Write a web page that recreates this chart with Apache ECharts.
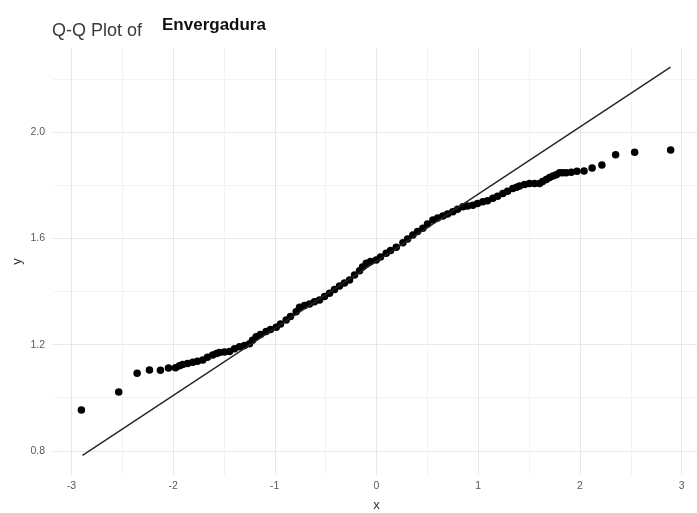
<!DOCTYPE html>
<html>
<head>
<meta charset="utf-8">
<script src="https://cdn.jsdelivr.net/npm/echarts@6/dist/echarts.min.js"></script>
<style>html,body{margin:0;padding:0;background:#fff;}#c{width:697px;height:513px;}</style>
</head>
<body>
<div id="c"></div>
<script>
// Theoretical quantiles (x) and sample quantiles (y)
var qqX = [-2.901,-2.534,-2.353,-2.232,-2.124,-2.045,-1.976,-1.937,-1.905,-1.858,
  -1.806,-1.760,-1.708,-1.662,-1.610,-1.573,-1.544,-1.495,-1.445,-1.396,
  -1.347,-1.298,-1.249,-1.219,-1.183,-1.141,-1.085,-1.042,-0.986,-0.944,
  -0.888,-0.846,-0.790,-0.757,-0.708,-0.659,-0.610,-0.560,-0.511,-0.462,
  -0.413,-0.364,-0.315,-0.265,-0.216,-0.167,-0.138,-0.101,-0.059,-0.003,
  0.039,0.095,0.138,0.194,0.259,0.305,0.357,0.403,0.455,0.501,
  0.554,0.600,0.652,0.698,0.750,0.796,0.849,0.895,0.947,0.993,
  1.045,1.091,1.144,1.190,1.242,1.288,1.340,1.377,1.406,1.455,
  1.504,1.554,1.603,1.632,1.669,1.701,1.734,1.767,1.799,1.829,
  1.865,1.914,1.970,2.040,2.119,2.215,2.350,2.537,2.891];
var qqY = [0.954,1.022,1.092,1.104,1.103,1.112,1.113,1.120,1.125,1.129,
  1.134,1.137,1.142,1.152,1.161,1.167,1.170,1.172,1.174,1.184,
  1.192,1.197,1.203,1.216,1.230,1.238,1.249,1.257,1.265,1.278,
  1.293,1.306,1.324,1.341,1.347,1.353,1.361,1.368,1.381,1.393,
  1.408,1.421,1.432,1.443,1.462,1.478,1.492,1.506,1.513,1.519,
  1.530,1.544,1.554,1.567,1.584,1.598,1.613,1.626,1.638,1.654,
  1.669,1.677,1.684,1.692,1.700,1.710,1.719,1.722,1.725,1.731,
  1.738,1.742,1.751,1.759,1.769,1.778,1.788,1.793,1.797,1.803,
  1.807,1.807,1.807,1.814,1.822,1.829,1.835,1.840,1.847,1.847,
  1.847,1.849,1.853,1.854,1.865,1.876,1.915,1.924,1.933];
// Reference line endpoints
var lineX = [-2.89, 2.89];
var lineY = [0.783, 2.245];
// Tick values
var xTicks = [-3, -2, -1, 0, 1, 2, 3];
var yTicks = [0.8, 1.2, 1.6, 2.0];
var titleMain = 'Q-Q Plot of';
var titleVar = 'Envergadura';
var xName = 'x';
var yName = 'y';

var pts = qqX.map(function (x, i) { return [x, qqY[i]]; });
var linePts = lineX.map(function (x, i) { return [x, lineY[i]]; });

// panel layout (data axis ranges)
var P = {left: 53, top: 48, width: 644, height: 427};
var xMin = -3.18, xMax = 3.15, yMin = 0.709, yMax = 2.317;
var pxPerX = P.width / (xMax - xMin);
var pxPerY = P.height / (yMax - yMin);
// grid used only for vertical gridlines & x labels: spans xTicks range
var gx0 = xTicks[0], gx1 = xTicks[xTicks.length - 1];
var gridX = {left: P.left + (gx0 - xMin) * pxPerX, width: (gx1 - gx0) * pxPerX, top: P.top, height: P.height};
// grid used only for horizontal gridlines & y labels: spans yTicks[0]..(last+0.4)
var gy0 = yTicks[0], gy1 = yTicks[yTicks.length - 1] + 0.4;
var gridY = {left: P.left, width: P.width, top: P.top - (gy1 - yMax) * pxPerY, height: (gy1 - gy0) * pxPerY};

var font = 'Liberation Sans, Arial, sans-serif';
var axisText = {color: '#5a5a5a', fontSize: 10.5, fontFamily: font};
var major = {color: '#e8e8e8', width: 1};
var minor = {color: '#f3f3f3', width: 1};

function g(o) {
  return {left: o.left, top: o.top, width: o.width, height: o.height, containLabel: false, outerBoundsMode: 'none'};
}

var chart = echarts.init(document.getElementById('c'), null, {renderer: 'canvas'});
chart.setOption({
  backgroundColor: '#ffffff',
  animation: false,
  title: [
    {text: titleMain, left: 52, top: 22, padding: 0, textStyle: {fontFamily: font, fontSize: 18, fontWeight: 'normal', color: '#3a3a3a'}},
    {text: titleVar, left: 162, top: 17, padding: 0, textStyle: {fontFamily: font, fontSize: 17, fontWeight: 'bold', color: '#111'}}
  ],
  grid: [g(P), g(gridX), g(gridY)],
  xAxis: [
    {gridIndex: 0, type: 'value', min: xMin, max: xMax, show: false, splitLine: {show: false}},
    {gridIndex: 1, type: 'value', min: gx0, max: gx1, interval: 1,
      name: xName, nameLocation: 'middle', nameGap: 24,
      nameTextStyle: {color: '#333', fontSize: 13, fontFamily: font},
      axisLine: {show: false}, axisTick: {show: false},
      axisLabel: Object.assign({margin: 6}, axisText),
      splitLine: {show: true, lineStyle: major},
      minorTick: {show: false, splitNumber: 2},
      minorSplitLine: {show: true, lineStyle: minor}},
    {gridIndex: 2, type: 'value', min: 0, max: 1, show: false, splitLine: {show: false}}
  ],
  yAxis: [
    {gridIndex: 0, type: 'value', min: yMin, max: yMax, show: true,
      name: yName, nameLocation: 'middle', nameGap: 29, nameRotate: 90,
      nameTextStyle: {color: '#333', fontSize: 13, fontFamily: font},
      axisLine: {show: false}, axisTick: {show: false}, axisLabel: {show: false},
      splitLine: {show: false}},
    {gridIndex: 1, type: 'value', min: 0, max: 1, show: false, splitLine: {show: false}},
    {gridIndex: 2, type: 'value', min: gy0, max: gy1, interval: 0.4,
      axisLine: {show: false}, axisTick: {show: false},
      axisLabel: Object.assign({margin: 8, showMaxLabel: false, formatter: function (v) { return v.toFixed(1); }}, axisText),
      splitLine: {show: true, showMaxLine: false, lineStyle: major},
      minorTick: {show: false, splitNumber: 2},
      minorSplitLine: {show: true, lineStyle: minor}}
  ],
  series: [
    {type: 'scatter', xAxisIndex: 0, yAxisIndex: 0, data: pts, symbol: 'circle', symbolSize: 7.5, itemStyle: {color: '#000', opacity: 1}, z: 2, silent: true},
    {type: 'line', xAxisIndex: 0, yAxisIndex: 0, data: linePts, symbol: 'none', lineStyle: {color: '#222', width: 1.3}, z: 3, silent: true}
  ]
});
</script>
</body>
</html>
